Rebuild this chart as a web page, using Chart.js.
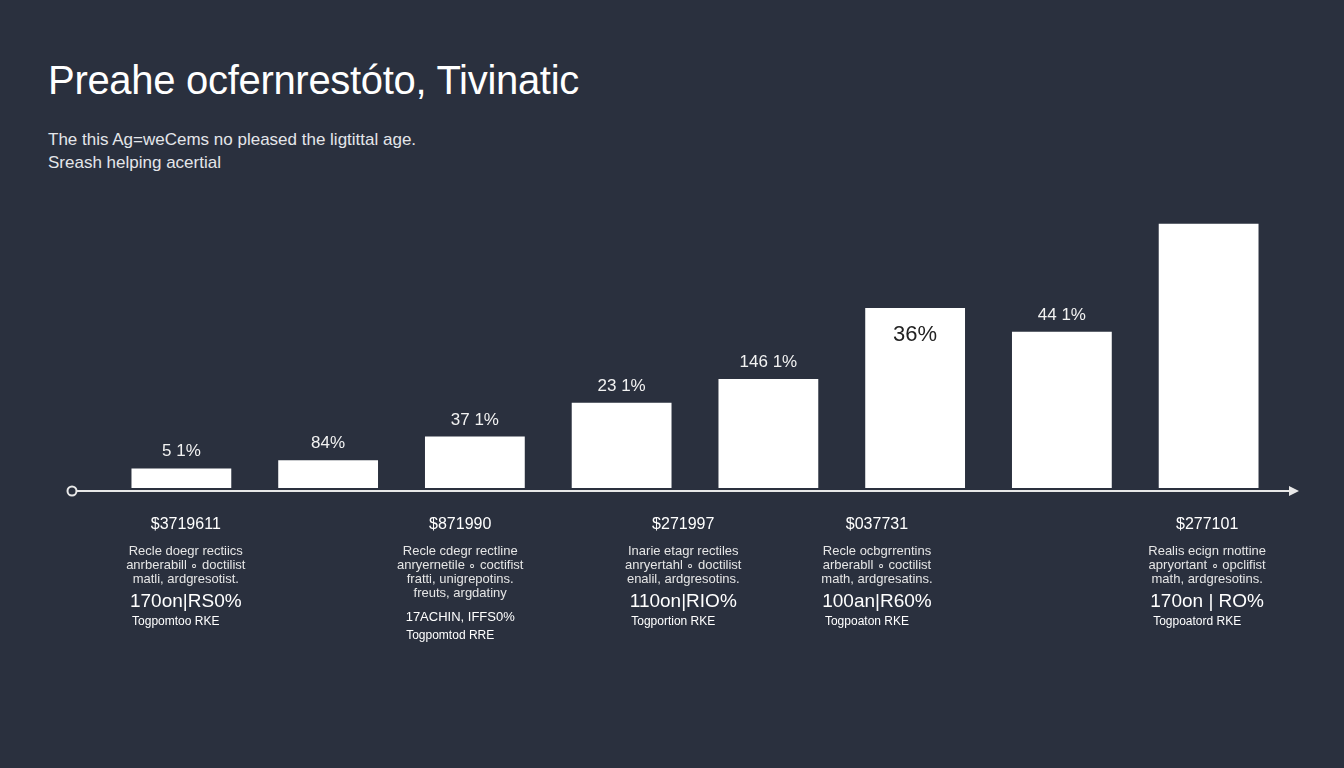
<!DOCTYPE html>
<html><head><meta charset="utf-8">
<script src="https://cdn.jsdelivr.net/npm/chart.js@4"></script>
<style>
html,body{margin:0;padding:0;background:#2a303e;width:1344px;height:768px;overflow:hidden;font-family:"Liberation Sans",Arial,sans-serif}
#t{position:absolute;left:48px;top:58px;color:#fff;font-size:40px;font-family:"Liberation Sans",sans-serif;letter-spacing:-0.3px}
#s{position:absolute;left:48px;top:128px;color:#e4e6ea;font-size:17px;line-height:23px}
canvas{position:absolute;left:0;top:0}
</style></head><body>
<div id="t">Preahe ocfernrestóto, Tivinatic</div>
<div id="s">The this Ag=weCems no pleased the ligtittal age.<br>Sreash helping acertial</div>
<canvas id="c" width="1344" height="768"></canvas>
<script>
const categories=["A","B","C","D","E","F","G","H"];
const values=[1.9,2.7,5.0,8.3,10.6,17.5,15.2,25.7];
const barLabels=["5 1%","84%","37 1%","23 1%","146 1%","36%","44 1%",""];
const amounts=["$3719611","$871990","$271997","$037731","$277101"];
const descs=[
["Recle doegr rectiics","anrberabill ∘ doctilist","matli, ardgresotist."],
["Recle cdegr rectline","anryernetile ∘ coctifist","fratti, unigrepotins.","freuts, argdatiny"],
["Inarie etagr rectiles","anryertahl ∘ doctilist","enalil, ardgresotins."],
["Recle ocbgrrentins","arberabll ∘ coctilist","math, ardgresatins."],
["Realis ecign rnottine","apryortant ∘ opclifist","math, ardgresotins."]];
const stats=["170on|RS0%","17ACHIN, IFFS0%","110on|RIO%","100an|R60%","170on | RO%"];
const foots=["Togpomtoo RKE","Togpomtod RRE","Togportion RKE","Togpoaton RKE","Togpoatord RKE"];
const blockAt=[0.03,1.9,3.42,4.74,6.99];
const deco={id:'deco',afterDatasetsDraw(ch){
 const c=ch.ctx,meta=ch.getDatasetMeta(0),y0=ch.scales.y.getPixelForValue(0)+3,xs=ch.scales.x;
 c.save();
 c.strokeStyle='#e8e8e8';c.lineWidth=2;c.beginPath();c.moveTo(77,y0);c.lineTo(1292,y0);c.stroke();
 c.beginPath();c.arc(72,y0,4.5,0,Math.PI*2);c.stroke();
 c.fillStyle='#e8e8e8';c.beginPath();c.moveTo(1299,y0);c.lineTo(1289,y0-5);c.lineTo(1289,y0+5);c.fill();
 c.textAlign='center';
 meta.data.forEach((b,i)=>{
  const l=barLabels[i];
  if(l){ if(i===5){c.fillStyle='#222';c.font='22px "Liberation Sans"';c.fillText(l,b.x,b.y+33);}
   else{c.fillStyle='#f2f2f2';c.font='17px "Liberation Sans"';c.fillText(l,b.x,b.y-12);} }
 });
 amounts.forEach((a,i)=>{
   const x=xs.getPixelForValue(blockAt[i]);
   c.fillStyle='#fff';c.font='16px "Liberation Sans"';c.fillText(a,x,y0+38);
   c.font='13px "Liberation Sans"';c.fillStyle='#e6e6e6';
   descs[i].forEach((d,k)=>c.fillText(d,x,y0+64+k*14));
   const yy=y0+64+descs[i].length*14+10;
   c.font=(i===1?'13px':'19px')+' "Liberation Sans"';c.fillStyle='#fff';c.fillText(stats[i],x,yy);
   c.font='12px "Liberation Sans"';c.fillText(foots[i],x-10,yy+18);
 });
 c.restore();}};
new Chart(document.getElementById('c'),{type:'bar',
 data:{labels:categories,datasets:[{data:values,backgroundColor:'#ffffff',borderWidth:0,barPercentage:0.68,categoryPercentage:1}]},
 options:{responsive:false,animation:false,layout:{padding:{left:108,right:62,top:200,bottom:280}},
 plugins:{legend:{display:false},tooltip:{enabled:false}},
 scales:{x:{display:false},y:{display:false,min:0,max:28}}},plugins:[deco]});
</script></body></html>
